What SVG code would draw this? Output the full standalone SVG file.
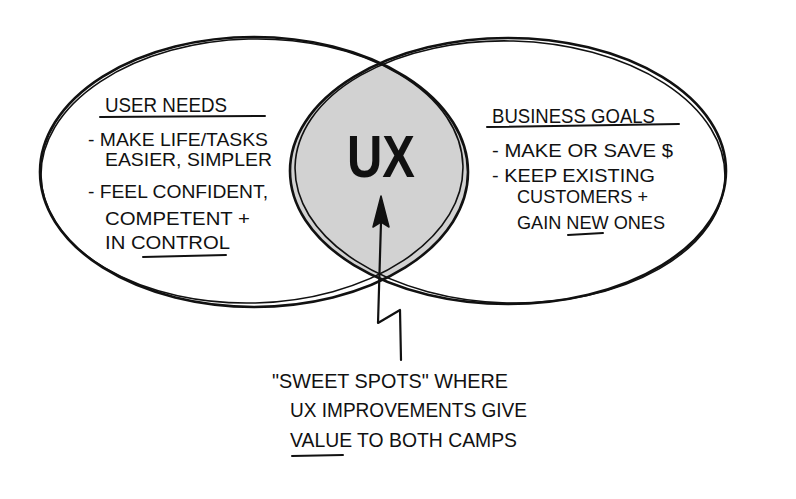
<svg xmlns="http://www.w3.org/2000/svg" width="796" height="499" viewBox="0 0 796 499">
<style>
.ring{fill:none;stroke:#111;stroke-width:2.6}
.ring2{fill:none;stroke:#111;stroke-width:1.6}
.h{font-family:"Liberation Sans",Arial,sans-serif;font-size:21px;fill:#111}
.t{font-family:"Liberation Sans",Arial,sans-serif;font-size:18px;fill:#111}
.ux{font-family:"Liberation Sans",Arial,sans-serif;font-size:60px;fill:#111;font-weight:bold}
.ul{stroke:#111;stroke-width:2;fill:none;stroke-linecap:round}
.con{stroke:#111;stroke-width:2.2;fill:none;stroke-linejoin:round;stroke-linecap:round}
</style>
<defs>
<clipPath id="clipRight"><ellipse cx="508" cy="171" rx="218" ry="133"/></clipPath>
</defs>
<rect width="796" height="499" fill="#fff"/>
<g id="overlap">
<ellipse cx="254" cy="172" rx="214" ry="135" fill="#d2d2d2" clip-path="url(#clipRight)"/>
</g>
<g id="user-needs">
<ellipse class="ring" cx="254" cy="172" rx="214" ry="135"/>
<ellipse class="ring2" cx="252" cy="171" rx="211" ry="132" transform="rotate(-1.5 252 171)"/>
<text class="h" x="105" y="112" textLength="122" lengthAdjust="spacingAndGlyphs">USER NEEDS</text>
<path class="ul" d="M100 117 L265 116"/>
<text class="t" x="88" y="146" textLength="180" lengthAdjust="spacingAndGlyphs">- MAKE LIFE/TASKS</text>
<text class="t" x="105" y="166" textLength="167" lengthAdjust="spacingAndGlyphs">EASIER, SIMPLER</text>
<text class="t" x="88" y="198" textLength="180" lengthAdjust="spacingAndGlyphs">- FEEL CONFIDENT,</text>
<text class="t" x="105" y="225" textLength="145" lengthAdjust="spacingAndGlyphs">COMPETENT +</text>
<text class="t" x="105" y="249" textLength="125" lengthAdjust="spacingAndGlyphs">IN CONTROL</text>
<path class="ul" d="M143 257 L226 255"/>
</g>
<g id="business-goals">
<ellipse class="ring" cx="508" cy="171" rx="218" ry="133"/>
<ellipse class="ring2" cx="510" cy="172" rx="215" ry="131" transform="rotate(1.5 510 172)"/>
<text class="h" x="492" y="123" textLength="163" lengthAdjust="spacingAndGlyphs">BUSINESS GOALS</text>
<path class="ul" d="M487 127 L679 124"/>
<text class="t" x="492" y="157" textLength="181" lengthAdjust="spacingAndGlyphs">-  MAKE OR SAVE $</text>
<text class="t" x="492" y="182" textLength="163" lengthAdjust="spacingAndGlyphs">-  KEEP EXISTING</text>
<text class="t" x="517" y="203" textLength="131" lengthAdjust="spacingAndGlyphs">CUSTOMERS +</text>
<text class="t" x="517" y="229" textLength="148" lengthAdjust="spacingAndGlyphs">GAIN NEW ONES</text>
<path class="ul" d="M568 235 L603 233"/>
</g>
<g id="ux">
<text class="ux" x="347" y="177" textLength="68" lengthAdjust="spacingAndGlyphs">UX</text>
</g>
<g id="connectors">
<path class="con" d="M381 222 L378 323 L400 310 L401 360"/>
<path d="M381 196 L389 227 L381 222 L373 227 Z" fill="#111" stroke="#111" stroke-width="1.5" stroke-linejoin="round"/>
</g>
<g id="sweet-spots">
<text class="h" x="272" y="388" textLength="236" lengthAdjust="spacingAndGlyphs">"SWEET SPOTS" WHERE</text>
<text class="h" x="290" y="417" textLength="237" lengthAdjust="spacingAndGlyphs">UX IMPROVEMENTS GIVE</text>
<text class="h" x="290" y="447" textLength="227" lengthAdjust="spacingAndGlyphs">VALUE TO BOTH CAMPS</text>
<path class="ul" d="M292 456 L343 455"/>
</g>
</svg>
